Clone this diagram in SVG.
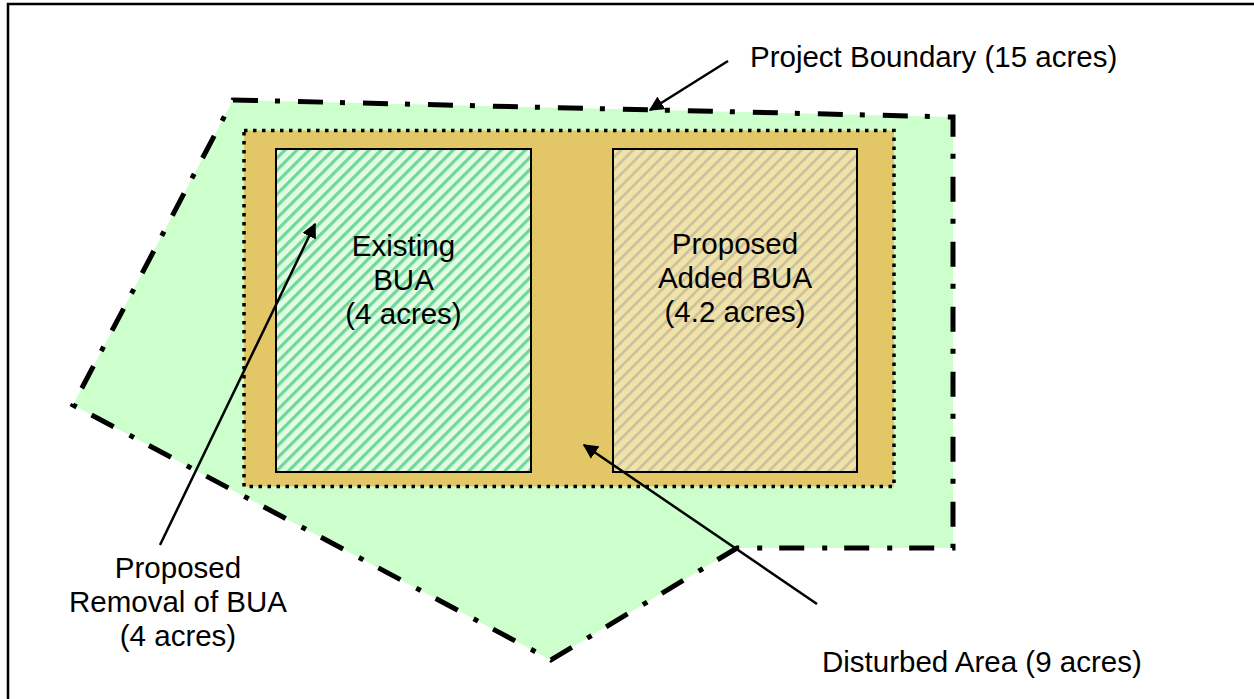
<svg xmlns="http://www.w3.org/2000/svg" width="1254" height="699" viewBox="0 0 1254 699">
<style>
text{font-family:"Liberation Sans",Arial,sans-serif;font-size:29.5px;fill:#000}
.c{text-anchor:middle}
.arrow{stroke:#000;stroke-width:2.5;fill:none;marker-end:url(#ah)}
</style>
<defs>
<marker id="ah" viewBox="0 0 10 10" refX="9" refY="5" markerWidth="6" markerHeight="6" markerUnits="strokeWidth" orient="auto">
<path d="M0,0 L10,5 L0,10 z" fill="#000"/>
</marker>
<pattern id="gs" width="8.5" height="8.5" patternUnits="userSpaceOnUse" patternTransform="rotate(45)">
<rect width="8.5" height="8.5" fill="#E2FCE2"/>
<rect width="3.2" height="8.5" fill="#6ED89A"/>
</pattern>
<pattern id="ys" width="8.5" height="8.5" patternUnits="userSpaceOnUse" patternTransform="rotate(45)">
<rect width="8.5" height="8.5" fill="#F1E2A8"/>
<rect width="2.6" height="8.5" fill="#C9C0A0"/>
</pattern>
</defs>
<rect x="8" y="4" width="1260" height="710" fill="#fff" stroke="#000" stroke-width="2.5"/>
<g id="project-boundary">
<polygon points="233,100 953,117 953,548 737,548 551,660 73,405" fill="#CCFFCC" stroke="#000" stroke-width="5" stroke-dasharray="25 17 5 18"/>
</g>
<g id="disturbed-area">
<rect x="244" y="130.5" width="650" height="356" fill="#E3C767" stroke="#000" stroke-width="3.5" stroke-dasharray="3.5 5.5"/>
</g>
<g id="existing-bua">
<rect x="276" y="149" width="255" height="323" fill="url(#gs)" stroke="#000" stroke-width="2"/>
<text class="c" x="403.5" y="256">Existing</text>
<text class="c" x="403.5" y="290">BUA</text>
<text class="c" x="403.5" y="324">(4 acres)</text>
</g>
<g id="proposed-added-bua">
<rect x="613" y="149" width="244" height="323" fill="url(#ys)" stroke="#000" stroke-width="2"/>
<text class="c" x="735" y="254">Proposed</text>
<text class="c" x="735" y="288">Added BUA</text>
<text class="c" x="735" y="322">(4.2 acres)</text>
</g>
<g id="label-project-boundary">
<text x="750" y="67">Project Boundary (15 acres)</text>
</g>
<g id="label-removal">
<text class="c" x="178" y="578">Proposed</text>
<text class="c" x="178" y="612">Removal of BUA</text>
<text class="c" x="178" y="646">(4 acres)</text>
</g>
<g id="label-disturbed">
<text x="822" y="672">Disturbed Area (9 acres)</text>
</g>
<g id="connectors">
<line class="arrow" x1="728" y1="61" x2="650" y2="110"/>
<line class="arrow" x1="160" y1="545" x2="315" y2="224"/>
<line class="arrow" x1="817" y1="604" x2="584" y2="445"/>
</g>
</svg>
